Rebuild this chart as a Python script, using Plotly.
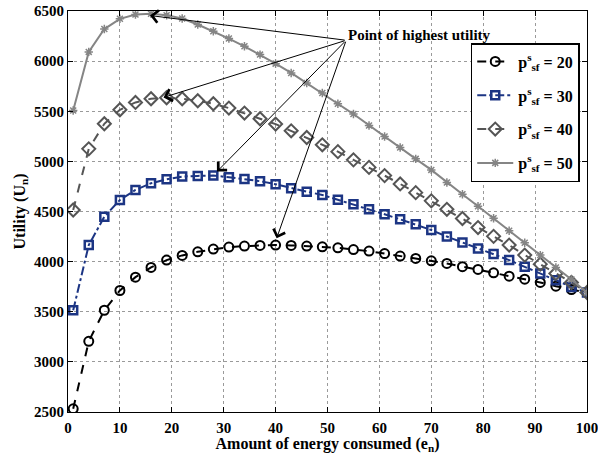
import plotly.graph_objects as go

# Energy consumed (e_n) sample points
energy = list(range(1, 101, 3))

# Utility U_n for each value of p^s_sf
u_20 = [2532, 3205, 3515, 3712, 3845, 3942, 4015, 4062, 4098, 4125, 4145, 4155, 4162,
        4165, 4162, 4155, 4148, 4138, 4120, 4105, 4080, 4055, 4032, 4008, 3982, 3950,
        3922, 3888, 3855, 3825, 3792, 3755, 3722, 3690]
u_30 = [3515, 4165, 4448, 4615, 4715, 4782, 4822, 4848, 4855, 4858, 4842, 4825, 4802,
        4772, 4732, 4698, 4665, 4618, 4572, 4522, 4472, 4422, 4372, 4315, 4250, 4192,
        4132, 4075, 4015, 3948, 3882, 3815, 3748, 3692]
u_40 = [4515, 5125, 5375, 5515, 5588, 5625, 5635, 5625, 5605, 5575, 5532, 5482, 5425,
        5372, 5305, 5238, 5165, 5097, 5015, 4940, 4858, 4775, 4688, 4606, 4522, 4430,
        4340, 4252, 4165, 4065, 3975, 3882, 3792, 3692]
u_50 = [5508, 6092, 6320, 6422, 6465, 6472, 6458, 6425, 6365, 6298, 6225, 6148, 6065,
        5975, 5882, 5782, 5682, 5575, 5472, 5358, 5248, 5138, 5025, 4915, 4790, 4672,
        4553, 4432, 4308, 4188, 4065, 3942, 3822, 3692]

series_names = ["p<sup>s</sup><sub>sf</sub> = 20", "p<sup>s</sup><sub>sf</sub> = 30",
                "p<sup>s</sup><sub>sf</sub> = 40", "p<sup>s</sup><sub>sf</sub> = 50"]

# Arrow targets (the maxima) and the shared arrow origin
peak_x = [15.8, 18.4, 28.7, 40.2]
peak_y = [6455, 5638, 4898, 4232]
arrow_origin = (53.6, 6208)
label_text = "Point of highest utility"

serif = "Liberation Serif"

styles = [
    dict(color="black", dash="dash", symbol="circle-open", msize=9, mline=2),
    dict(color="#1c3584", dash="dashdot", symbol="square-open", msize=8, mline=2.5),
    dict(color="#555555", dash="dash", symbol="diamond-open", msize=10, mline=2),
    dict(color="#858585", dash="solid", symbol="asterisk-open", msize=7, mline=1.5),
]

fig = go.Figure()
for i, (vals, st) in enumerate(zip([u_20, u_30, u_40, u_50], styles)):
    fig.add_trace(go.Scatter(
        x=energy, y=vals, mode="lines+markers", name=series_names[i],
        legendgroup=f"g{i}",
        line=dict(color=st["color"], dash=st["dash"], width=2),
        marker=dict(symbol=st["symbol"], size=st["msize"], color=st["color"],
                    line=dict(color=st["color"], width=st["mline"])),
    ))

for px, py in zip(peak_x, peak_y):
    fig.add_annotation(
        x=px, y=py, ax=arrow_origin[0], ay=arrow_origin[1],
        xref="x", yref="y", axref="x", ayref="y",
        text="", showarrow=True, arrowhead=4, arrowsize=2.4, arrowwidth=1,
        arrowcolor="black", standoff=0,
    )

fig.add_annotation(
    x=arrow_origin[0], y=6265, xref="x", yref="y", text=f"<b>{label_text}</b>",
    showarrow=False, xanchor="left", yanchor="middle",
    font=dict(family=serif, size=15, color="black"),
)

axis_common = dict(
    showline=True, linecolor="black", linewidth=1.2, mirror="ticks",
    ticks="inside", ticklen=5, tickcolor="black",
    showgrid=True, gridcolor="#9a9a9a", griddash="dot", gridwidth=1,
    zeroline=False, automargin=False, ticklabeloverflow="allow",
    tickfont=dict(family=serif, size=15, color="black", weight="bold"),
)

fig.update_xaxes(
    range=[0, 100], tickvals=list(range(0, 101, 10)),
    ticklabelstandoff=2,
    title=dict(text="<b>Amount of energy consumed (e<sub>n</sub>)</b>", standoff=0,
               font=dict(family=serif, size=16, color="black")),
    **axis_common,
)
fig.update_yaxes(
    range=[2500, 6500], tickvals=list(range(2500, 6501, 500)),
    title=dict(text="<b>Utility (U<sub>n</sub>)</b>", standoff=4,
               font=dict(family=serif, size=16, color="black")),
    **axis_common,
)

fig.update_layout(
    width=598, height=454,
    margin=dict(l=68, r=11, t=11, b=42, autoexpand=False),
    paper_bgcolor="white", plot_bgcolor="white",
    font=dict(family=serif),
    showlegend=True,
    legend=dict(
        x=0.776, y=0.92, xanchor="left", yanchor="top",
        bgcolor="white", bordercolor="black", borderwidth=1.5,
        font=dict(family=serif, size=16, color="black", weight="bold"),
        tracegroupgap=10, itemwidth=36,
    ),
)

fig.write_html("out.html")
